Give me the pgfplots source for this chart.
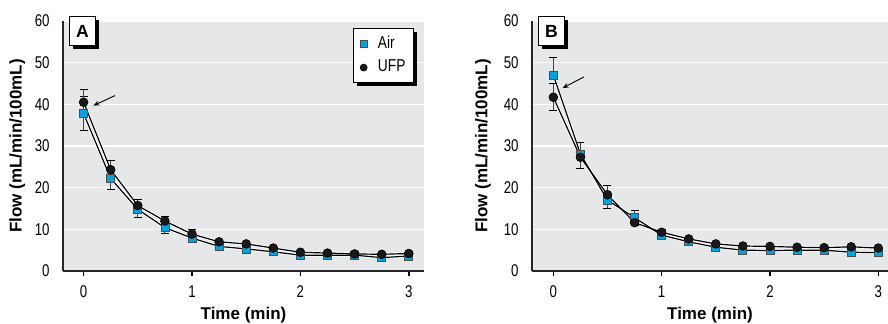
\documentclass[border=0pt]{standalone}
\usepackage{pgfplots}
\pgfplotsset{compat=1.18}
\usepackage{pgfplotstable}
\usepackage{fontspec}
\setmainfont{Liberation Sans}
\newfontfamily\cond[FakeStretch=0.78]{Liberation Sans}
\newfontfamily\condl[FakeStretch=0.8]{Liberation Sans}
\usetikzlibrary{shadows,arrows.meta}
\definecolor{bg}{RGB}{230,231,232}
\definecolor{aircol}{RGB}{0,164,224}

\pgfplotstableread{
t    air  airp airm ufp  ufpp ufpm
0    37.8 4.0  4.1  40.5 3.0  0
0.25 22.2 0    2.6  24.3 2.2  0
0.5  14.8 0    2.0  15.7 1.5  0
0.75 10.4 0    1.3  12.0 1.0  0
1    7.9  0    0.8  8.85 1.0  0
1.25 5.9  0    0    7.0  0    0
1.5  5.3  0    0    6.5  0    0
1.75 4.6  0    0    5.5  0    0
2    3.8  0    0    4.5  0    0
2.25 3.8  0    0    4.3  0    0
2.5  3.8  0    0    4.1  0    0
2.75 3.2  0    0    4.0  0    0
3    3.6  0    0    4.2  0    0
}\dataA

\pgfplotstableread{
t    air  airp airm ufp  ufpp ufpm
0    47.0 4.3  0    41.7 3.2  3.2
0.25 28.1 2.7  0    27.3 0    2.6
0.5  17.0 0    2.0  18.3 2.1  0
0.75 12.8 1.8  0    11.6 0    0.6
1    8.6  0    0.5  9.3  0.6  0
1.25 7.0  0    0    7.7  0    0
1.5  5.7  0    0    6.5  0    0
1.75 5.0  0    0    6.0  0    0
2    4.9  0    0    5.9  0    0
2.25 5.0  0    0    5.7  0    0
2.5  5.0  0    0    5.6  0    0
2.75 4.5  0    0    5.8  0    0
3    4.4  0    0    5.5  0    0
}\dataB

\pgfplotsset{
  panel/.style={
    scale only axis,
    height=125pt,
    ymin=0, ymax=60,
    axis lines=left,
    axis line style={-, line width=0.75pt, black!85},
    axis background/.style={fill=bg},
    ytick={0,10,...,60},
    xtick={0,1,2,3},
    ymajorgrids,
    major grid style={white, line width=0.7pt},
    ytick style={draw=none},
    xtick style={black, line width=0.7pt},
    tick align=outside,
    major tick length=2.5pt,
    /pgf/number format/assume math mode=true,
    tick label style={font=\cond\fontsize{8.5}{9}\selectfont},
    yticklabel style={anchor=east, inner sep=0pt, xshift=-4pt},
    xticklabel style={anchor=north, inner sep=0pt, yshift=-4.5pt},
    xlabel={Time (min)},
    ylabel={Flow (mL/min/100mL)},
    label style={font=\bfseries\fontsize{8.5}{9}\selectfont},
    xlabel style={at={(axis description cs:0.5,0)}, anchor=center, yshift=-22pt},
    clip=false,
  },
  halo/.style={white, line width=1.4pt, forget plot},
  blk/.style={black, line width=0.6pt, forget plot},
  airm/.style={only marks, mark=square*, mark size=2pt,
    mark options={fill=aircol, draw=black!70, line width=0.4pt},
    error bars/.cd, y dir=both, y explicit,
    error bar style={black!75, line width=0.5pt},
    error mark options={black, mark size=2pt, rotate=90, line width=0.5pt}},
  ufpm/.style={only marks, mark=*, mark size=2.2pt,
    mark options={fill=black!90, draw=black, line width=0.3pt},
    error bars/.cd, y dir=both, y explicit,
    error bar style={black!75, line width=0.5pt},
    error mark options={black, mark size=2pt, rotate=90, line width=0.5pt}},
}

\newcommand{\letterbox}[1]{%
  \node[draw=black, line width=0.5pt, fill=white, minimum width=13pt, minimum height=14.5pt,
        inner sep=0pt, anchor=north west,
        drop shadow={shadow xshift=1.8pt, shadow yshift=-1.7pt, fill=black, opacity=1},
        font=\bfseries\fontsize{8.8}{9}\selectfont]
    at ([xshift=3pt, yshift=2.35pt]rel axis cs:0,1) {#1};}

\begin{document}
\begin{tikzpicture}
\path[use as bounding box] (-31.5pt,-26.5pt) rectangle (412.5pt,135.5pt);

\begin{axis}[panel, at={(0pt,0pt)}, anchor=south west,
  width=180.5pt, xmin=-0.19, xmax=3.14,
  ylabel style={at={(axis description cs:-0.127,0.5)}, anchor=center, rotate=0},
  legend cell align=left,
  legend image code/.code={\draw[#1, mark size=1.75pt] plot coordinates {(0pt,0pt)};},
  legend style={at={(rel axis cs:1,1)}, anchor=north east, xshift=-5pt, yshift=-3.7pt,
    draw=black, line width=0.5pt, fill=white,
    drop shadow={shadow xshift=1.8pt, shadow yshift=-1.7pt, fill=black, opacity=1},
    font=\condl\fontsize{8.6}{9}\selectfont,
    inner xsep=3.2pt, inner ysep=3pt, column sep=4.6pt, row sep=2.5pt,
    nodes={inner sep=0.8pt}},
]
\addplot[halo] table[x=t, y=air]{\dataA};
\addplot[halo] table[x=t, y=ufp]{\dataA};
\addplot[blk] table[x=t, y=air]{\dataA};
\addplot[blk] table[x=t, y=ufp]{\dataA};
\addplot[airm] table[x=t, y=air, y error plus=airp, y error minus=airm]{\dataA};
\addplot[ufpm] table[x=t, y=ufp, y error plus=ufpp, y error minus=ufpm]{\dataA};
\legend{Air, UFP}
\draw[-{Stealth[length=3pt, width=2.4pt]}, line width=0.45pt] (axis cs:0.29,42.1) -- (axis cs:0.09,39.7);
\letterbox{A}
\end{axis}

\begin{axis}[panel, at={(234.5pt,0pt)}, anchor=south west,
  width=178pt, xmin=-0.197, xmax=3.09,
  ylabel style={at={(axis description cs:-0.138,0.5)}, anchor=center, rotate=0},
]
\addplot[halo] table[x=t, y=air]{\dataB};
\addplot[halo] table[x=t, y=ufp]{\dataB};
\addplot[blk] table[x=t, y=air]{\dataB};
\addplot[blk] table[x=t, y=ufp]{\dataB};
\addplot[airm] table[x=t, y=air, y error plus=airp, y error minus=airm]{\dataB};
\addplot[ufpm] table[x=t, y=ufp, y error plus=ufpp, y error minus=ufpm]{\dataB};
\draw[-{Stealth[length=3pt, width=2.4pt]}, line width=0.45pt] (axis cs:0.284,46.6) -- (axis cs:0.085,43.9);
\letterbox{B}
\end{axis}
\end{tikzpicture}
\end{document}
